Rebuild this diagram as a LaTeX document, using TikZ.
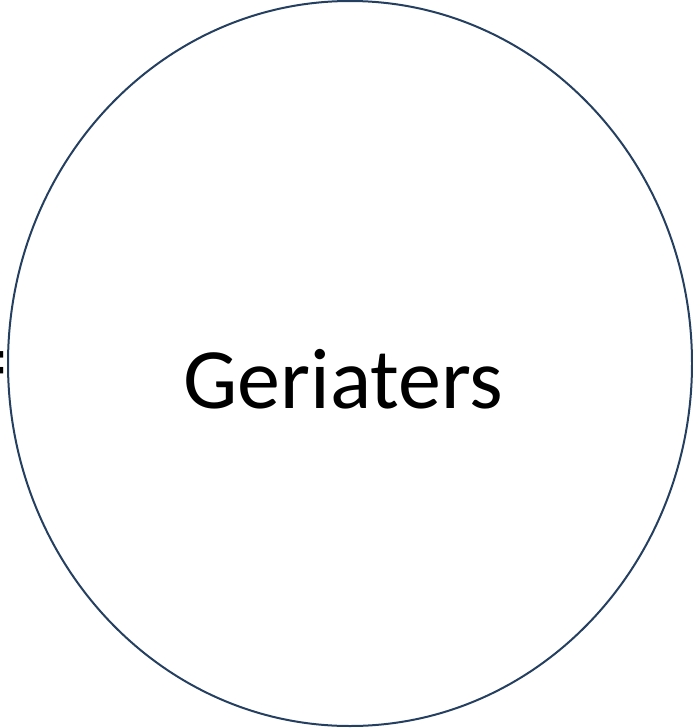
\documentclass[tikz,border=0pt]{standalone}
\usepackage{fontspec}
\setmainfont{Carlito}
\definecolor{ringblue}{HTML}{243F60}
\tikzset{
  ring/.style={draw=ringblue, line width=2pt, ellipse},
  bigtext/.style={font=\fontsize{86}{90}\selectfont, text=black, inner sep=0pt},
}
\usetikzlibrary{shapes.geometric}
\begin{document}
\begin{tikzpicture}[x=1pt,y=-1pt]
\useasboundingbox (0,0) rectangle (693,728);
\draw[ring] (350,363.5) ellipse [x radius=342, y radius=362.5];
\node[bigtext, anchor=base] (label) at (343.5,408) {Geriaters};
\node[bigtext, font=\fontsize{100}{104}\selectfont, anchor=base east] (frag) at (9,394) {=};
\end{tikzpicture}
\end{document}
